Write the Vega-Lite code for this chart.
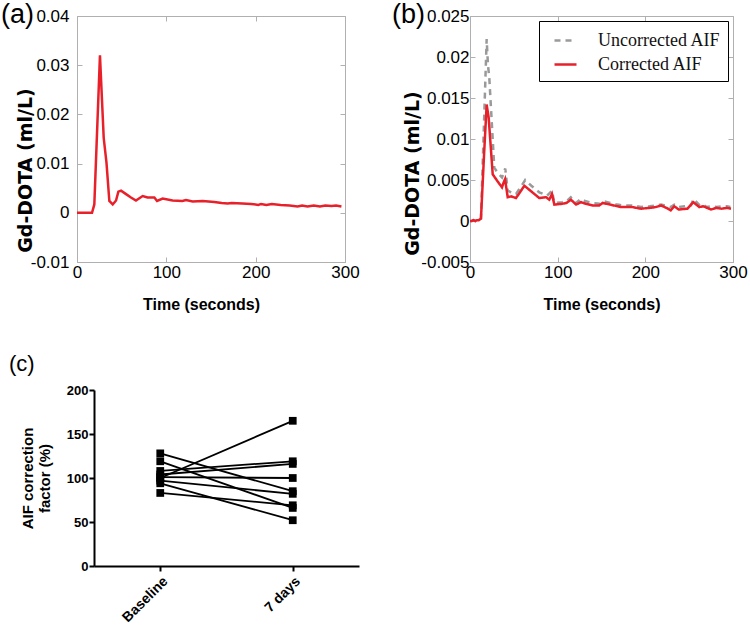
{
  "$schema": "https://vega.github.io/schema/vega-lite/v6.json",
  "padding": {"left": 0, "top": 0, "right": 0, "bottom": 0},
  "background": "white",
  "columns": 2,
  "align": "none",
  "bounds": "full",
  "spacing": {"row": 40, "column": 31},
  "resolve": {"scale": {"color": "independent", "strokeDash": "independent"}, "legend": {"color": "independent", "strokeDash": "independent"}},
  "datasets": {
    "a": [
      {"t": 0, "v": 0}, {"t": 5, "v": 0}, {"t": 10, "v": 0}, {"t": 16.8, "v": 0},
      {"t": 19.4, "v": 0.0017}, {"t": 25.7, "v": 0.032}, {"t": 29.9, "v": 0.0152},
      {"t": 33, "v": 0.0102}, {"t": 36.2, "v": 0.0024}, {"t": 40, "v": 0.0017},
      {"t": 43.7, "v": 0.0025}, {"t": 46.3, "v": 0.0043}, {"t": 49.3, "v": 0.0045},
      {"t": 54.9, "v": 0.0038}, {"t": 60.4, "v": 0.0031}, {"t": 66, "v": 0.0025},
      {"t": 73.5, "v": 0.0034}, {"t": 79, "v": 0.0031}, {"t": 86.6, "v": 0.0031},
      {"t": 89.6, "v": 0.0024}, {"t": 95.9, "v": 0.0029}, {"t": 107, "v": 0.0025},
      {"t": 118, "v": 0.0024}, {"t": 122, "v": 0.0026}, {"t": 129.5, "v": 0.0023},
      {"t": 140.7, "v": 0.0024}, {"t": 153.7, "v": 0.0022}, {"t": 162, "v": 0.002},
      {"t": 168.7, "v": 0.0019}, {"t": 173, "v": 0.002}, {"t": 185, "v": 0.0019},
      {"t": 195, "v": 0.0018}, {"t": 203, "v": 0.0016}, {"t": 206, "v": 0.0018},
      {"t": 212, "v": 0.0016}, {"t": 218, "v": 0.0018}, {"t": 228, "v": 0.0016},
      {"t": 238, "v": 0.0015}, {"t": 247, "v": 0.0013}, {"t": 252, "v": 0.0015},
      {"t": 258, "v": 0.0013}, {"t": 265, "v": 0.0015}, {"t": 272, "v": 0.0013},
      {"t": 278, "v": 0.0015}, {"t": 285, "v": 0.0014}, {"t": 290, "v": 0.0015},
      {"t": 296, "v": 0.0013}
    ],
    "b": [
      {"s": "Uncorrected AIF", "t": 0, "v": 0}, {"s": "Uncorrected AIF", "t": 2, "v": 0},
      {"s": "Uncorrected AIF", "t": 4, "v": 0.0001}, {"s": "Uncorrected AIF", "t": 6, "v": 0},
      {"s": "Uncorrected AIF", "t": 8, "v": 0.0001}, {"s": "Uncorrected AIF", "t": 10, "v": 0.0001},
      {"s": "Uncorrected AIF", "t": 12.5, "v": 0.0003}, {"s": "Uncorrected AIF", "t": 16, "v": 0.012},
      {"s": "Uncorrected AIF", "t": 19, "v": 0.0222}, {"s": "Uncorrected AIF", "t": 20.5, "v": 0.019},
      {"s": "Uncorrected AIF", "t": 22, "v": 0.0175}, {"s": "Uncorrected AIF", "t": 27.7, "v": 0.0065},
      {"s": "Uncorrected AIF", "t": 32, "v": 0.0058}, {"s": "Uncorrected AIF", "t": 36.5, "v": 0.0053},
      {"s": "Uncorrected AIF", "t": 40.2, "v": 0.0064}, {"s": "Uncorrected AIF", "t": 43, "v": 0.0037},
      {"s": "Uncorrected AIF", "t": 47, "v": 0.0035}, {"s": "Uncorrected AIF", "t": 52.5, "v": 0.0033},
      {"s": "Uncorrected AIF", "t": 57, "v": 0.004}, {"s": "Uncorrected AIF", "t": 63, "v": 0.005},
      {"s": "Uncorrected AIF", "t": 70, "v": 0.0043}, {"s": "Uncorrected AIF", "t": 79, "v": 0.0035},
      {"s": "Uncorrected AIF", "t": 88, "v": 0.0031}, {"s": "Uncorrected AIF", "t": 93.5, "v": 0.0037},
      {"s": "Uncorrected AIF", "t": 96.2, "v": 0.0022}, {"s": "Uncorrected AIF", "t": 105, "v": 0.0023},
      {"s": "Uncorrected AIF", "t": 110, "v": 0.0024}, {"s": "Uncorrected AIF", "t": 115, "v": 0.0029},
      {"s": "Uncorrected AIF", "t": 121, "v": 0.0022}, {"s": "Uncorrected AIF", "t": 126.6, "v": 0.0027},
      {"s": "Uncorrected AIF", "t": 132, "v": 0.0024}, {"s": "Uncorrected AIF", "t": 140, "v": 0.0022},
      {"s": "Uncorrected AIF", "t": 148, "v": 0.0021}, {"s": "Uncorrected AIF", "t": 152.6, "v": 0.0024},
      {"s": "Uncorrected AIF", "t": 160, "v": 0.0022}, {"s": "Uncorrected AIF", "t": 168, "v": 0.002},
      {"s": "Uncorrected AIF", "t": 175, "v": 0.0019}, {"s": "Uncorrected AIF", "t": 185, "v": 0.0019},
      {"s": "Uncorrected AIF", "t": 195, "v": 0.0017}, {"s": "Uncorrected AIF", "t": 205, "v": 0.0018},
      {"s": "Uncorrected AIF", "t": 212, "v": 0.0019}, {"s": "Uncorrected AIF", "t": 218, "v": 0.002},
      {"s": "Uncorrected AIF", "t": 226, "v": 0.0018}, {"s": "Uncorrected AIF", "t": 229, "v": 0.0017},
      {"s": "Uncorrected AIF", "t": 233, "v": 0.002}, {"s": "Uncorrected AIF", "t": 238, "v": 0.0017},
      {"s": "Uncorrected AIF", "t": 245, "v": 0.0018}, {"s": "Uncorrected AIF", "t": 252, "v": 0.0019},
      {"s": "Uncorrected AIF", "t": 255, "v": 0.0027}, {"s": "Uncorrected AIF", "t": 262, "v": 0.0019},
      {"s": "Uncorrected AIF", "t": 266, "v": 0.002}, {"s": "Uncorrected AIF", "t": 270, "v": 0.0017},
      {"s": "Uncorrected AIF", "t": 276, "v": 0.0018}, {"s": "Uncorrected AIF", "t": 281, "v": 0.0017},
      {"s": "Uncorrected AIF", "t": 287, "v": 0.0018}, {"s": "Uncorrected AIF", "t": 293, "v": 0.0018},
      {"s": "Uncorrected AIF", "t": 297, "v": 0.0017},
      {"s": "Corrected AIF", "t": 0, "v": 0}, {"s": "Corrected AIF", "t": 2, "v": 0},
      {"s": "Corrected AIF", "t": 4, "v": 0.0001}, {"s": "Corrected AIF", "t": 6, "v": 0},
      {"s": "Corrected AIF", "t": 8, "v": 0.0001}, {"s": "Corrected AIF", "t": 10, "v": 0.0001},
      {"s": "Corrected AIF", "t": 12.5, "v": 0.0003}, {"s": "Corrected AIF", "t": 16, "v": 0.008},
      {"s": "Corrected AIF", "t": 19, "v": 0.0142}, {"s": "Corrected AIF", "t": 21.3, "v": 0.0126},
      {"s": "Corrected AIF", "t": 25.9, "v": 0.0057}, {"s": "Corrected AIF", "t": 31, "v": 0.0049},
      {"s": "Corrected AIF", "t": 36.5, "v": 0.0041}, {"s": "Corrected AIF", "t": 38, "v": 0.0046},
      {"s": "Corrected AIF", "t": 40, "v": 0.0051}, {"s": "Corrected AIF", "t": 43, "v": 0.0029},
      {"s": "Corrected AIF", "t": 47, "v": 0.003}, {"s": "Corrected AIF", "t": 52.5, "v": 0.0028},
      {"s": "Corrected AIF", "t": 57, "v": 0.0035}, {"s": "Corrected AIF", "t": 62, "v": 0.0043},
      {"s": "Corrected AIF", "t": 70, "v": 0.0036}, {"s": "Corrected AIF", "t": 79, "v": 0.0028},
      {"s": "Corrected AIF", "t": 86.7, "v": 0.0029}, {"s": "Corrected AIF", "t": 90.5, "v": 0.0026},
      {"s": "Corrected AIF", "t": 93.5, "v": 0.0033}, {"s": "Corrected AIF", "t": 96.2, "v": 0.002},
      {"s": "Corrected AIF", "t": 105, "v": 0.0021}, {"s": "Corrected AIF", "t": 110, "v": 0.0022},
      {"s": "Corrected AIF", "t": 115.2, "v": 0.0026}, {"s": "Corrected AIF", "t": 121, "v": 0.002},
      {"s": "Corrected AIF", "t": 126.6, "v": 0.0023}, {"s": "Corrected AIF", "t": 132, "v": 0.0021},
      {"s": "Corrected AIF", "t": 140, "v": 0.0019}, {"s": "Corrected AIF", "t": 147.5, "v": 0.0019},
      {"s": "Corrected AIF", "t": 151.3, "v": 0.0022}, {"s": "Corrected AIF", "t": 160, "v": 0.002},
      {"s": "Corrected AIF", "t": 172, "v": 0.0017}, {"s": "Corrected AIF", "t": 185, "v": 0.0017},
      {"s": "Corrected AIF", "t": 195, "v": 0.0015}, {"s": "Corrected AIF", "t": 205, "v": 0.0016},
      {"s": "Corrected AIF", "t": 212, "v": 0.0017}, {"s": "Corrected AIF", "t": 218, "v": 0.0019},
      {"s": "Corrected AIF", "t": 224, "v": 0.0016}, {"s": "Corrected AIF", "t": 229, "v": 0.0013},
      {"s": "Corrected AIF", "t": 233, "v": 0.0018}, {"s": "Corrected AIF", "t": 238, "v": 0.0014},
      {"s": "Corrected AIF", "t": 248, "v": 0.0015}, {"s": "Corrected AIF", "t": 254.7, "v": 0.0023},
      {"s": "Corrected AIF", "t": 261.6, "v": 0.0017}, {"s": "Corrected AIF", "t": 266, "v": 0.0018},
      {"s": "Corrected AIF", "t": 275, "v": 0.0014}, {"s": "Corrected AIF", "t": 281, "v": 0.0016},
      {"s": "Corrected AIF", "t": 287, "v": 0.0015}, {"s": "Corrected AIF", "t": 293, "v": 0.0016},
      {"s": "Corrected AIF", "t": 297.7, "v": 0.0015}
    ],
    "c": [
      {"id": 1, "time": "Baseline", "pct": 128}, {"id": 1, "time": "7 days", "pct": 85},
      {"id": 2, "time": "Baseline", "pct": 119}, {"id": 2, "time": "7 days", "pct": 66},
      {"id": 3, "time": "Baseline", "pct": 108}, {"id": 3, "time": "7 days", "pct": 119},
      {"id": 4, "time": "Baseline", "pct": 104}, {"id": 4, "time": "7 days", "pct": 116},
      {"id": 5, "time": "Baseline", "pct": 100}, {"id": 5, "time": "7 days", "pct": 165},
      {"id": 6, "time": "Baseline", "pct": 101}, {"id": 6, "time": "7 days", "pct": 100},
      {"id": 7, "time": "Baseline", "pct": 97}, {"id": 7, "time": "7 days", "pct": 82},
      {"id": 8, "time": "Baseline", "pct": 94}, {"id": 8, "time": "7 days", "pct": 52},
      {"id": 9, "time": "Baseline", "pct": 83}, {"id": 9, "time": "7 days", "pct": 69}
    ]
  },
  "concat": [
    {
      "width": 268,
      "height": 246,
      "view": {"stroke": "#b0b0b0"},
      "title": {"text": "(a)", "anchor": "start", "frame": "group", "fontSize": 27, "fontWeight": "normal", "font": "Liberation Sans", "offset": -22, "dx": -76, "color": "#000"},
      "data": {"name": "a"},
      "layer": [
        {
          "mark": {"type": "line", "color": "#e8202a", "strokeWidth": 2.5},
          "encoding": {
            "x": {"field": "t", "type": "quantitative", "scale": {"domain": [0, 300], "nice": false},
              "axis": {"orient": "bottom", "values": [0, 100, 200, 300], "grid": false, "labelFlush": false, "labelOverlap": false,
                "domainColor": "#b0b0b0", "tickColor": "#b0b0b0", "tickSize": -5, "labelPadding": 7,
                "labelFont": "Liberation Sans", "labelFontSize": 17, "labelColor": "#000",
                "title": "Time (seconds)", "titleFont": "Liberation Sans", "titleFontSize": 16, "titleFontWeight": "bold", "titleColor": "#000", "titlePadding": 16, "titleX": 124}},
            "y": {"field": "v", "type": "quantitative", "scale": {"domain": [-0.01, 0.04], "nice": false},
              "axis": {"orient": "left", "values": [-0.01, 0, 0.01, 0.02, 0.03, 0.04], "grid": false, "labelFlush": false, "labelOverlap": false,
                "labelExpr": "datum.value === 0 ? '0' : (datum.value < 0 ? '-' + format(-datum.value, '.2~f') : format(datum.value, '.2~f'))",
                "domainColor": "#b0b0b0", "tickColor": "#b0b0b0", "tickSize": -5, "labelPadding": 13,
                "labelFont": "Liberation Sans", "labelFontSize": 17, "labelColor": "#000",
                "title": "Gd-DOTA (ml/L)", "titleFont": "DejaVu Sans", "titleFontSize": 19, "titleFontWeight": "bold", "titleColor": "#000",
                "titleX": -52, "titleY": 154, "titleBaseline": "middle", "titleAngle": 270}}
          }
        },
        {
          "mark": {"type": "line", "opacity": 0},
          "encoding": {
            "x": {"field": "t", "type": "quantitative", "axis": {"orient": "top", "values": [0, 100, 200, 300], "labels": false, "domain": false, "grid": false, "title": null, "tickColor": "#b0b0b0", "tickSize": -5}},
            "y": {"field": "v", "type": "quantitative", "axis": {"orient": "right", "values": [-0.01, 0, 0.01, 0.02, 0.03, 0.04], "labels": false, "domain": false, "grid": false, "title": null, "tickColor": "#b0b0b0", "tickSize": -5}}
          }
        }
      ],
      "resolve": {"axis": {"x": "independent", "y": "independent"}}
    },
    {
      "width": 263,
      "height": 246,
      "view": {"stroke": "#b0b0b0"},
      "title": {"text": "(b)", "anchor": "start", "frame": "group", "fontSize": 27, "fontWeight": "normal", "font": "Liberation Sans", "offset": -22, "dx": -78, "color": "#000"},
      "data": {"name": "b"},
      "layer": [
        {
          "transform": [{"filter": "datum.s === 'Uncorrected AIF'"}],
          "mark": {"type": "line", "strokeWidth": 2.5},
          "encoding": {
            "x": {"field": "t", "type": "quantitative", "scale": {"domain": [0, 300], "nice": false},
              "axis": {"orient": "bottom", "values": [0, 100, 200, 300], "grid": false, "labelFlush": false, "labelOverlap": false,
                "domainColor": "#b0b0b0", "tickColor": "#b0b0b0", "tickSize": -5, "labelPadding": 7,
                "labelFont": "Liberation Sans", "labelFontSize": 17, "labelColor": "#000",
                "title": "Time (seconds)", "titleFont": "Liberation Sans", "titleFontSize": 16, "titleFontWeight": "bold", "titleColor": "#000", "titlePadding": 16}},
            "y": {"field": "v", "type": "quantitative", "scale": {"domain": [-0.005, 0.025], "nice": false},
              "axis": {"orient": "left", "values": [-0.005, 0, 0.005, 0.01, 0.015, 0.02, 0.025], "grid": false, "labelFlush": false, "labelOverlap": false,
                "labelExpr": "datum.value === 0 ? '0' : (datum.value < 0 ? '-' + format(-datum.value, '.3~f') : format(datum.value, '.3~f'))",
                "domainColor": "#b0b0b0", "tickColor": "#b0b0b0", "tickSize": -5, "labelPadding": 6,
                "labelFont": "Liberation Sans", "labelFontSize": 17, "labelColor": "#000",
                "title": "Gd-DOTA (ml/L)", "titleFont": "DejaVu Sans", "titleFontSize": 19, "titleFontWeight": "bold", "titleColor": "#000",
                "titleX": -58, "titleY": 157, "titleBaseline": "middle", "titleAngle": 270}},
            "color": {"field": "s", "type": "nominal", "scale": {"domain": ["Uncorrected AIF", "Corrected AIF"], "range": ["#9a9a9a", "#e8202a"]},
              "legend": {"title": null, "orient": "top-right", "offset": 5, "padding": 7, "strokeColor": "#000", "fillColor": "#fff",
                "labelFont": "Liberation Serif", "labelFontSize": 18, "labelColor": "#111", "labelOffset": 20,
                "symbolType": "stroke", "symbolSize": 484, "symbolOffset": 7, "symbolStrokeWidth": 2.5, "rowPadding": 2}},
            "strokeDash": {"field": "s", "type": "nominal", "scale": {"domain": ["Uncorrected AIF", "Corrected AIF"], "range": [[6, 5], [1, 0]]},
              "legend": {"title": null, "orient": "top-right", "offset": 5, "padding": 7, "strokeColor": "#000", "fillColor": "#fff",
                "labelFont": "Liberation Serif", "labelFontSize": 18, "labelColor": "#111", "labelOffset": 20,
                "symbolType": "stroke", "symbolSize": 484, "symbolOffset": 7, "symbolStrokeWidth": 2.5, "rowPadding": 2}}
          }
        },
        {
          "transform": [{"filter": "datum.s === 'Corrected AIF'"}],
          "mark": {"type": "line", "strokeWidth": 2.5},
          "encoding": {
            "x": {"field": "t", "type": "quantitative", "axis": null},
            "y": {"field": "v", "type": "quantitative", "axis": null},
            "color": {"field": "s", "type": "nominal"},
            "strokeDash": {"field": "s", "type": "nominal"}
          }
        },
        {
          "mark": {"type": "line", "opacity": 0},
          "encoding": {
            "x": {"field": "t", "type": "quantitative", "axis": {"orient": "top", "values": [0, 100, 200, 300], "labels": false, "domain": false, "grid": false, "title": null, "tickColor": "#b0b0b0", "tickSize": -5}},
            "y": {"field": "v", "type": "quantitative", "axis": {"orient": "right", "values": [-0.005, 0, 0.005, 0.01, 0.015, 0.02, 0.025], "labels": false, "domain": false, "grid": false, "title": null, "tickColor": "#b0b0b0", "tickSize": -5}},
            "detail": {"field": "s", "type": "nominal"}
          }
        }
      ],
      "resolve": {"axis": {"x": "independent", "y": "independent"}}
    },
    {
      "width": 282,
      "height": 176,
      "view": {"stroke": null},
      "title": {"text": "(c)", "anchor": "start", "frame": "group", "fontSize": 22, "fontWeight": "normal", "font": "Liberation Sans", "offset": 8, "dx": -68, "color": "#000"},
      "data": {"name": "c"},
      "layer": [
        {
          "mark": {"type": "line", "color": "#000", "strokeWidth": 1.8},
          "encoding": {
            "x": {"field": "time", "type": "nominal", "sort": ["Baseline", "7 days"], "scale": {"type": "point", "padding": 0.5, "range": [17, 282]},
              "axis": {"labelAngle": -45, "labelFont": "Liberation Sans", "labelFontWeight": "bold", "labelFontSize": 14, "labelColor": "#000",
                "domainColor": "#000", "domainWidth": 2, "tickColor": "#000", "tickWidth": 2, "tickSize": 5, "labelPadding": 3, "title": null, "grid": false}},
            "y": {"field": "pct", "type": "quantitative", "scale": {"domain": [0, 200], "nice": false},
              "axis": {"values": [0, 50, 100, 150, 200], "offset": -17, "labelFont": "Liberation Sans", "labelFontWeight": "bold", "labelFontSize": 13, "labelColor": "#000", "labelPadding": 1,
                "domainColor": "#000", "domainWidth": 2, "tickColor": "#000", "tickWidth": 2, "tickSize": 5, "grid": false,
                "title": ["AIF correction", "factor (%)"], "titleFont": "Liberation Sans", "titleFontSize": 15, "titleFontWeight": "bold", "titleColor": "#000", "titlePadding": 14}},
            "detail": {"field": "id", "type": "nominal"}
          }
        },
        {
          "mark": {"type": "point", "shape": "square", "filled": true, "color": "#000", "size": 60, "opacity": 1},
          "encoding": {
            "x": {"field": "time", "type": "nominal", "sort": ["Baseline", "7 days"]},
            "y": {"field": "pct", "type": "quantitative"}
          }
        }
      ]
    }
  ]
}
